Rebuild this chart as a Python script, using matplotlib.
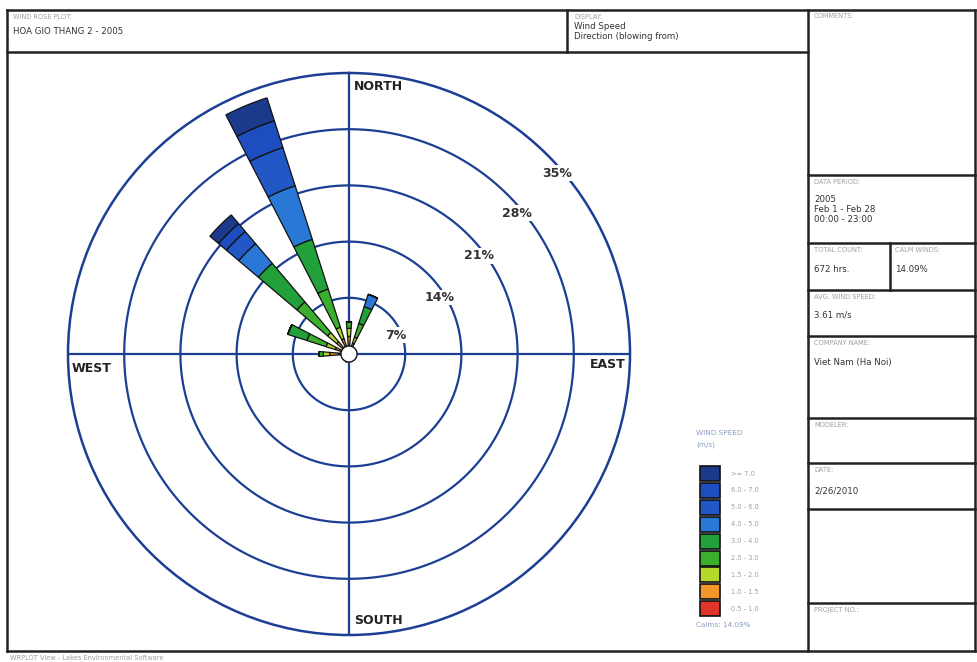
import numpy as np
import matplotlib
matplotlib.use("Agg")
import matplotlib.pyplot as plt
from matplotlib.patches import Rectangle

# ---- wind rose data: frequency (%) per direction and speed class ----
directions = ["N", "NNE", "NE", "ENE", "E", "ESE", "SE", "SSE",
              "S", "SSW", "SW", "WSW", "W", "WNW", "NW", "NNW"]

# speed classes from lowest to highest (m/s)
speed_labels = ["0.5 - 1.0", "1.0 - 1.5", "1.5 - 2.0", "2.0 - 3.0", "3.0 - 4.0",
                "4.0 - 5.0", "5.0 - 6.0", "6.0 - 7.0", ">= 7.0"]
speed_colors = ["#e0352a", "#f0962a", "#b5d92a", "#3cae2e", "#22a13a",
                "#2a78d6", "#2158c6", "#1d4dbf", "#1b3a8c"]

ws_05_10 = [1.0, 0.6, 0.5, 0.3, 0.25, 0.2, 0.25, 0.3, 0.4, 0.5, 0.5, 0.4, 1.2, 0.8, 0.8, 0.8]
ws_10_15 = [1.2, 0.8, 0.3, 0.2, 0.15, 0.1, 0.15, 0.2, 0.3, 0.5, 0.4, 0.3, 1.2, 1.0, 1.2, 1.2]
ws_15_20 = [1.0, 0.8, 0.1, 0.0, 0.0, 0.0, 0.0, 0.0, 0.0, 0.0, 0.0, 0.0, 0.8, 1.2, 1.5, 1.5]
ws_20_30 = [0.8, 1.8, 0.0, 0.0, 0.0, 0.0, 0.0, 0.0, 0.0, 0.0, 0.0, 0.0, 0.5, 2.5, 5.0, 5.0]
ws_30_40 = [0.0, 2.2, 0.0, 0.0, 0.0, 0.0, 0.0, 0.0, 0.0, 0.0, 0.0, 0.0, 0.0, 2.5, 6.3, 6.5]
ws_40_50 = [0.0, 1.6, 0.0, 0.0, 0.0, 0.0, 0.0, 0.0, 0.0, 0.0, 0.0, 0.0, 0.0, 0.0, 3.2, 7.0]
ws_50_60 = [0.0, 0.0, 0.0, 0.0, 0.0, 0.0, 0.0, 0.0, 0.0, 0.0, 0.0, 0.0, 0.0, 0.0, 2.0, 5.0]
ws_60_70 = [0.0, 0.0, 0.0, 0.0, 0.0, 0.0, 0.0, 0.0, 0.0, 0.0, 0.0, 0.0, 0.0, 0.0, 1.3, 3.5]
ws_70_up = [0.0, 0.0, 0.0, 0.0, 0.0, 0.0, 0.0, 0.0, 0.0, 0.0, 0.0, 0.0, 0.0, 0.0, 1.4, 3.0]
speed_series = [ws_05_10, ws_10_15, ws_15_20, ws_20_30, ws_30_40,
                ws_40_50, ws_50_60, ws_60_70, ws_70_up]

ring_values = [7, 14, 21, 28, 35]
ring_labels = ["7%", "14%", "21%", "28%", "35%"]
calm_pct = 14.09

plot_title = "HOA GIO THANG 2 - 2005"
data_period = ["2005", "Feb 1 - Feb 28", "00:00 - 23:00"]
total_count = "672 hrs."
avg_speed = "3.61 m/s"
company = "Viet Nam (Ha Noi)"
plot_date = "2/26/2010"

W, H = 978, 662
fig = plt.figure(figsize=(W / 100, H / 100), dpi=100)
fig.patch.set_facecolor("white")

# ---- wind rose ----
cx, cy, rad = 349, 354, 281
ax = fig.add_axes([(cx - rad) / W, (H - cy - rad) / H, 2 * rad / W, 2 * rad / H],
                  projection="polar")
ax.set_theta_zero_location("N")
ax.set_theta_direction(-1)
rmax = ring_values[-1]
ax.set_ylim(0, rmax)
ax.grid(False)
ax.set_xticks([])
ax.set_yticks([])
ax.spines["polar"].set_color("#1c3f94")
ax.spines["polar"].set_linewidth(1.8)

grid_c = "#1c3f94"
th = np.linspace(0, 2 * np.pi, 400)
for rv in ring_values[:-1]:
    ax.plot(th, np.full_like(th, rv), color=grid_c, lw=1.6, zorder=1)
for a in [0, 90, 180, 270]:
    ax.plot([np.deg2rad(a)] * 2, [0, rmax], color=grid_c, lw=1.6, zorder=1)

theta = np.deg2rad(np.arange(16) * 22.5)
bottom = np.zeros(16)
for vals, col in zip(speed_series, speed_colors):
    vals = np.array(vals)
    ax.bar(theta, vals, width=np.deg2rad(9.5), bottom=bottom, color=col,
           edgecolor="#111111", linewidth=0.9, zorder=3)
    bottom += vals

# calm circle
ax.fill(th, np.full_like(th, 1.0), facecolor="white", edgecolor="#111111",
        lw=1.0, zorder=5)

# ring labels
label_bearing = [68, 58, 53, 50, 49]
for rv, txt, b in zip(ring_values, ring_labels, label_bearing):
    ax.text(np.deg2rad(b), rv - 0.7, txt, fontsize=9, fontweight="bold",
            color="#333333", ha="center", va="center", zorder=6,
            bbox=dict(facecolor="white", edgecolor="none", pad=1.0))

# ---- page frame drawn in pixel coordinates, on top of the rose ----
frame = fig.add_axes([0, 0, 1, 1])
frame.set_xlim(0, W)
frame.set_ylim(H, 0)
frame.axis("off")
frame.patch.set_alpha(0)
frame.set_zorder(10)

lc = "#222222"
lw = 1.8
def hline(y, x0, x1):
    frame.plot([x0, x1], [y, y], color=lc, lw=lw, solid_capstyle="projecting")
def vline(x, y0, y1):
    frame.plot([x, x], [y0, y1], color=lc, lw=lw, solid_capstyle="projecting")

L, T, R, B = 7, 10, 975, 651
RC = 808
hline(T, L, R); hline(B, L, R); vline(L, T, B); vline(R, T, B)
hline(52, L, RC)
vline(567, T, 52)
vline(RC, T, B)
for y in [175, 243, 290, 336, 418, 463, 509, 603]:
    hline(y, RC, R)
vline(890, 243, 290)

lab = dict(fontsize=4.8, color="#a0a0a0", va="top", ha="left")
val = dict(fontsize=6.2, color="#333333", va="top", ha="left")

frame.text(13, 14, "WIND ROSE PLOT:", **lab)
frame.text(13, 27, plot_title, **val)
frame.text(574, 14, "DISPLAY:", **lab)
frame.text(574, 22, "Wind Speed", **val)
frame.text(574, 32, "Direction (blowing from)", **val)
frame.text(814, 13, "COMMENTS:", **lab)
frame.text(814, 179, "DATA PERIOD:", **lab)
for i, line in enumerate(data_period):
    frame.text(814, 195 + i * 10, line, **val)
frame.text(814, 247, "TOTAL COUNT:", **lab)
frame.text(814, 265, total_count, **val)
frame.text(895, 247, "CALM WINDS:", **lab)
frame.text(895, 265, f"{calm_pct:.2f}%", **val)
frame.text(814, 294, "AVG. WIND SPEED:", **lab)
frame.text(814, 311, avg_speed, **val)
frame.text(814, 340, "COMPANY NAME:", **lab)
frame.text(814, 358, company, **val)
frame.text(814, 422, "MODELER:", **lab)
frame.text(814, 467, "DATE:", **lab)
frame.text(814, 487, plot_date, **val)
frame.text(814, 607, "PROJECT NO.:", **lab)
frame.text(10, 655, "WRPLOT View - Lakes Environmental Software", **lab)

# ---- legend ----
frame.text(696, 430, "WIND SPEED", fontsize=5.2, color="#8a9ac0", va="top", ha="left")
frame.text(696, 442, "(m/s)", fontsize=5.2, color="#8a9ac0", va="top", ha="left")
for k in range(len(speed_labels)):
    row = len(speed_labels) - 1 - k          # highest class on top
    y = 466 + row * 16.9
    frame.add_patch(Rectangle((700, y), 20, 15, facecolor=speed_colors[k],
                              edgecolor="#111111", lw=1.2))
    frame.text(731, y + 7.5, speed_labels[k], fontsize=4.8, color="#a0a0a0",
               va="center", ha="left")
frame.text(696, 622, f"Calms: {calm_pct:.2f}%", fontsize=5.2, color="#8a9ac0",
           va="top", ha="left")

# compass labels
comp = dict(fontsize=9, fontweight="bold", color="#222222", va="center",
            bbox=dict(facecolor="white", edgecolor="none", pad=0.5))
frame.text(354, 87, "NORTH", ha="left", **comp)
frame.text(354, 620, "SOUTH", ha="left", **comp)
frame.text(72, 368, "WEST", ha="left", **comp)
frame.text(626, 364, "EAST", ha="right", **comp)

fig.savefig("out.png", dpi=100, facecolor="white")
